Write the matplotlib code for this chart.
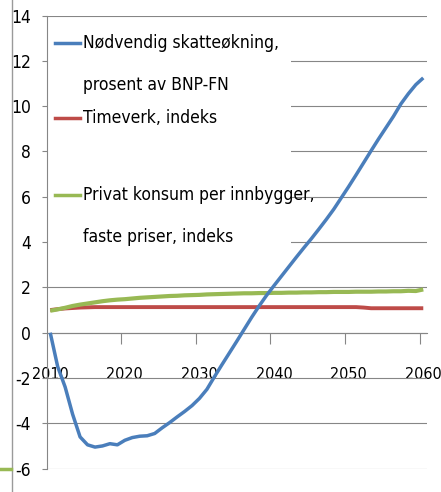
import numpy as np
import matplotlib
matplotlib.use('Agg')
import matplotlib.pyplot as plt
from matplotlib.lines import Line2D
from matplotlib.patches import Rectangle

plt.rcParams['font.family'] = ['DejaVu Sans']
plt.rcParams['font.stretch'] = 'condensed'
plt.rcParams['axes.unicode_minus'] = False

# Data (annual values, 2010-2060)
years = np.arange(2010, 2061)
skatt = [0.0, -1.5, -2.4, -3.6, -4.6, -4.95, -5.05, -5.0, -4.9, -4.95,
         -4.75, -4.63, -4.57, -4.55, -4.45, -4.2, -3.97, -3.72, -3.48, -3.22,
         -2.9, -2.5, -1.95, -1.42, -0.9, -0.38, 0.15, 0.68, 1.18, 1.65,
         2.08, 2.5, 2.92, 3.34, 3.75, 4.15, 4.57, 5.0, 5.45, 5.95,
         6.45, 6.97, 7.5, 8.03, 8.55, 9.05, 9.55, 10.1, 10.55, 10.95, 11.25]
timeverk = [1.0, 1.04, 1.07, 1.09, 1.11, 1.12, 1.13, 1.13, 1.13, 1.13,
            1.13, 1.13, 1.13, 1.13, 1.13, 1.13, 1.13, 1.13, 1.13, 1.13,
            1.13, 1.13, 1.13, 1.13, 1.13, 1.13, 1.13, 1.13, 1.13, 1.13,
            1.13, 1.13, 1.13, 1.13, 1.13, 1.13, 1.13, 1.13, 1.13, 1.13,
            1.13, 1.13, 1.11, 1.08, 1.08, 1.08, 1.08, 1.08, 1.08, 1.08, 1.08]
konsum = [0.97, 1.03, 1.1, 1.18, 1.24, 1.29, 1.34, 1.39, 1.43, 1.46,
          1.48, 1.51, 1.54, 1.56, 1.58, 1.6, 1.62, 1.63, 1.65, 1.66,
          1.67, 1.69, 1.7, 1.71, 1.72, 1.73, 1.74, 1.74, 1.75, 1.75,
          1.76, 1.76, 1.77, 1.77, 1.78, 1.78, 1.79, 1.79, 1.8, 1.8,
          1.8, 1.81, 1.81, 1.81, 1.82, 1.82, 1.83, 1.83, 1.85, 1.84, 1.91]

labels = ['Nødvendig skatteøkning,\nprosent av BNP-FN',
          'Timeverk, indeks',
          'Privat konsum per innbygger,\nfaste priser, indeks']
farger = ['#4A7EBB', '#BE4B48', '#98B954']

W, H = 441, 492
fig = plt.figure(figsize=(W / 100, H / 100), dpi=100)
ax = fig.add_axes([46.5 / W, 1 - 468.6 / H, (427 - 46.5) / W, (468.6 - 15.6) / H])

grid = '#868686'
ax.plot(years, timeverk, color=farger[1], lw=2.8, solid_capstyle='butt', zorder=3)
ax.plot(years, konsum, color=farger[2], lw=3.0, solid_capstyle='butt', zorder=4)
ax.plot(years, skatt, color=farger[0], lw=2.5, solid_capstyle='butt', zorder=5)

ax.set_xlim(2009.5, 2060.5)
ax.set_ylim(-6, 14)
ax.set_yticks(np.arange(-6, 15, 2))
ax.set_xticks(np.arange(2019.5, 2060, 10))
ax.set_xticklabels([])
ax.set_xticks(np.arange(2010, 2061, 10), minor=True)
ax.set_xticklabels([str(y) for y in range(2010, 2061, 10)], minor=True)
ax.tick_params(axis='x', which='major', direction='out', length=8, color=grid, width=0.8)
ax.tick_params(axis='x', which='minor', length=0, pad=25, labelsize=11.5)
ax.tick_params(axis='y', direction='out', length=3.5, color=grid, width=0.8,
               pad=7.5, labelsize=12.5)

ax.set_axisbelow(True)
ax.yaxis.grid(True, color=grid, lw=0.8)
for s in ['top', 'right']:
    ax.spines[s].set_visible(False)
ax.spines['bottom'].set_position(('data', 0))
ax.spines['left'].set_color(grid)
ax.spines['bottom'].set_color(grid)
ax.spines['left'].set_linewidth(0.8)
ax.spines['bottom'].set_linewidth(0.8)

# legend drawn by hand, Excel style (handle beside first line)
ax.add_patch(Rectangle((0.003, 0.456), 0.64, 0.52, transform=ax.transAxes,
                       facecolor='white', edgecolor='none', zorder=1))
rader = [43, 118, 195]
for lab, c, yy in zip(labels, farger, rader):
    fy = 1 - yy / H
    fig.add_artist(Line2D([55 / W, 80 / W], [fy, fy], color=c, lw=2.5))
    linjer = lab.split('\n')
    for i, t in enumerate(linjer):
        fig.text(83 / W, 1 - (yy + 42 * i) / H, t, fontsize=12.5,
                 va='center', ha='left')

# remnants at the left edge
fig.add_artist(Line2D([12 / W, 12 / W], [0, 1], color='#9a9a9a', lw=1))
fig.add_artist(Line2D([0, 11 / W], [1 - 469 / H, 1 - 469 / H], color=farger[2], lw=2.5))

fig.savefig('out.png', dpi=100)
